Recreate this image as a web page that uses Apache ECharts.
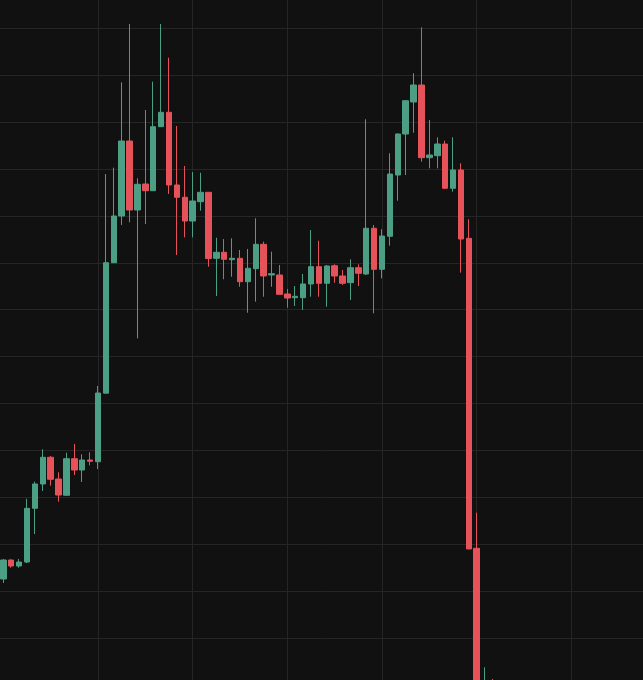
<!DOCTYPE html>
<html>
<head>
<meta charset="utf-8">
<style>
html,body{margin:0;padding:0;background:#111111;}
#chart{width:643px;height:680px;}
</style>
<script src="https://cdn.jsdelivr.net/npm/echarts@6/dist/echarts.min.js"></script>
</head>
<body>
<div id="chart"></div>
<script>
var opens  = [82.58,86.63,85.35,86.20,97.65,102.84,108.53,103.90,100.43,108.23,105.82,107.95,107.59,122.20,150.02,159.98,175.97,161.26,166.80,165.37,179.02,182.09,166.59,163.97,158.91,163.03,165.03,150.96,152.24,150.66,150.96,145.97,148.74,153.94,147.40,147.40,143.35,142.56,142.56,145.48,149.17,145.63,149.38,147.19,145.76,148.96,147.61,157.36,148.61,155.65,168.72,177.46,184.29,187.91,172.41,172.84,175.33,165.89,169.79,155.22,89.13,55.00,60.00];
var closes = [86.63,85.35,86.20,97.65,102.84,108.53,103.84,100.49,108.23,105.82,107.95,107.68,122.24,150.02,159.98,175.97,161.26,166.74,165.37,179.02,182.09,166.59,163.97,158.91,163.18,165.03,150.92,152.24,150.75,150.96,145.97,148.83,153.94,147.19,147.68,143.28,142.49,142.86,145.48,149.17,145.63,149.32,147.19,145.63,148.96,147.76,157.36,148.61,155.71,168.93,177.46,184.56,187.91,172.41,172.99,175.33,165.89,169.79,155.07,88.98,40.00,58.00,57.00];
var lows   = [81.73,84.99,84.99,85.99,92.18,101.34,102.47,99.06,100.43,104.75,103.26,106.82,106.03,122.20,150.02,158.06,158.64,133.90,158.27,165.37,179.02,164.67,151.66,155.44,155.44,161.11,149.17,142.92,146.48,147.04,144.90,139.36,141.71,142.77,144.90,143.28,140.43,140.79,139.94,142.77,142.77,140.64,145.76,145.27,142.07,145.05,147.40,139.23,146.70,153.65,163.24,168.72,177.74,171.56,170.15,170.15,165.74,165.16,147.89,88.98,35.00,52.00,55.00];
var highs  = [86.84,86.78,86.84,99.70,103.33,110.23,108.81,105.33,109.51,111.36,109.17,109.60,123.73,168.93,170.28,188.49,200.92,168.02,182.58,188.61,200.92,193.73,179.17,170.64,169.36,169.21,165.10,155.35,155.07,155.22,152.73,152.94,159.49,154.50,152.37,149.53,144.41,145.05,147.61,156.99,154.71,149.53,149.68,148.47,150.75,149.68,180.60,158.06,157.14,173.35,177.60,184.71,190.41,200.21,180.45,176.76,176.03,176.76,171.22,159.28,96.72,63.76,61.26];

var candles = opens.map(function (o, i) {
  return [i, o, closes[i], lows[i], highs[i]];
});

var G = '#262626', T = 'rgba(0,0,0,0)';
var chart = echarts.init(document.getElementById('chart'), null, {renderer: 'canvas'});
chart.setOption({
  backgroundColor: '#111111',
  animation: false,
  grid: {left: -91.38, top: -18.6, width: 757.44, height: 703.5, containLabel: false, outerBoundsMode: 'none'},
  xAxis: {
    type: 'value', min: -12, max: 84, interval: 12,
    axisLine: {show: false}, axisTick: {show: false}, axisLabel: {show: false},
    splitLine: {show: true, lineStyle: {color: [G, T, G, G, G, G, G, G, G], width: 1}}
  },
  yAxis: {
    type: 'value', min: 60, max: 210, interval: 10,
    axisLine: {show: false}, axisTick: {show: false}, axisLabel: {show: false},
    splitLine: {show: true, lineStyle: {color: G, width: 1}}
  },
  series: [{
    type: 'candlestick',
    data: candles,
    encode: {x: 0, y: [1, 2, 3, 4]},
    barWidth: 6,
    clip: false,
    itemStyle: {
      color: '#4c9f84', color0: '#e5525a',
      borderColor: '#4c9f84', borderColor0: '#e5525a',
      borderWidth: 1
    }
  }]
});
</script>
</body>
</html>
